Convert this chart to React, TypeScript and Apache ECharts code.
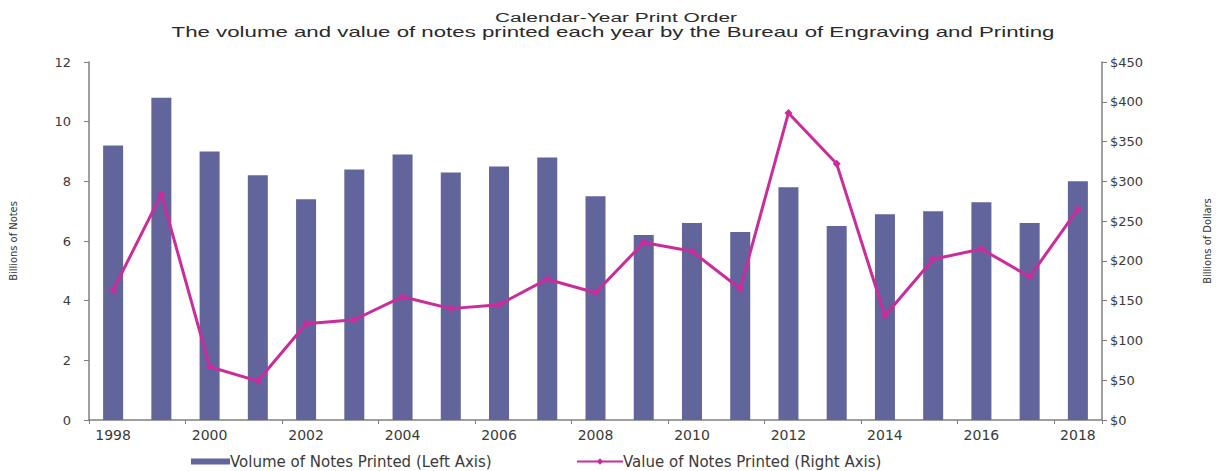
import React, { useEffect, useRef } from "react";
import * as echarts from "echarts";

const years = ["1998","1999","2000","2001","2002","2003","2004","2005","2006","2007","2008","2009","2010","2011","2012","2013","2014","2015","2016","2017","2018"];
const volumeBillions = [9.2, 10.8, 9.0, 8.2, 7.4, 8.4, 8.9, 8.3, 8.5, 8.8, 7.5, 6.2, 6.6, 6.3, 7.8, 6.5, 6.9, 7.0, 7.3, 6.6, 8.0];
const valueBillions = [163, 284, 67, 49, 121, 126, 155, 140, 145, 177, 160, 223, 212, 165, 386, 322, 131, 202, 215, 180, 265];
const titleText = "Calendar-Year Print Order";
const subtitleText = "The volume and value of notes printed each year by the Bureau of Engraving and Printing";
const seriesNames = ["Volume of Notes Printed (Left Axis)", "Value of Notes Printed (Right Axis)"];

export default function App() {
  const ref = useRef<HTMLDivElement>(null);
  useEffect(() => {
    const chart = echarts.init(ref.current!, null, { renderer: "svg" });
    const axisColor = "#7f7f7f";
    const labelStyle = { color: "#3a3a3a", fontFamily: "DejaVu Sans", fontSize: 13 };
    const narrow = "'Liberation Sans Narrow', 'DejaVu Sans Condensed', 'Liberation Sans'";
    const legendText = { color: "#3a3a3a", fontFamily: "DejaVu Sans", fontSize: 15, padding: [0, 0, 0, -5] };
    chart.setOption({
      animation: false,
      backgroundColor: "#ffffff",
      graphic: [
        {
          type: "text", x: 616, y: 17, scaleX: 1.55,
          style: { text: titleText, font: "13.5px 'Liberation Sans'", fill: "#2a2a2a", textAlign: "center", textVerticalAlign: "middle" },
        },
        {
          type: "text", x: 613, y: 32, scaleX: 1.59,
          style: { text: subtitleText, font: "14px 'Liberation Sans'", fill: "#2a2a2a", textAlign: "center", textVerticalAlign: "middle" },
        },
      ],
      grid: { left: 88, right: 116, top: 62, bottom: 51, containLabel: false },
      legend: [
        {
          left: 186, top: 449, itemWidth: 39, itemHeight: 6,
          textStyle: legendText,
          data: [{ name: seriesNames[0], icon: "rect" }],
        },
        {
          left: 571, top: 449, itemWidth: 46, itemHeight: 8,
          textStyle: legendText,
          data: [{ name: seriesNames[1] }],
        },
      ],
      xAxis: {
        type: "category",
        data: years,
        boundaryGap: true,
        axisLine: { lineStyle: { color: axisColor, width: 1.5 } },
        axisTick: { show: true, alignWithLabel: false, length: 4, lineStyle: { color: axisColor } },
        axisLabel: { ...labelStyle, fontSize: 14, interval: 1, margin: 8 },
      },
      yAxis: [
        {
          type: "value", min: 0, max: 12, interval: 2,
          name: "Billions of Notes", nameLocation: "middle", nameRotate: 90, nameGap: 70,
          nameTextStyle: { fontFamily: narrow, fontSize: 11, color: "#333" },
          axisLine: { show: true, lineStyle: { color: axisColor, width: 1.5 } },
          axisTick: { show: true, length: 5, lineStyle: { color: axisColor } },
          axisLabel: { ...labelStyle, margin: 18 },
          splitLine: { show: false },
        },
        {
          type: "value", min: 0, max: 450, interval: 50, position: "right",
          name: "Billions of Dollars", nameLocation: "middle", nameRotate: 90, nameGap: 100,
          nameTextStyle: { fontFamily: narrow, fontSize: 11, color: "#333" },
          axisLine: { show: true, lineStyle: { color: axisColor, width: 1.5 } },
          axisTick: { show: true, length: 5, lineStyle: { color: axisColor } },
          axisLabel: { ...labelStyle, margin: 8, formatter: (v: number) => "$" + v },
          splitLine: { show: false },
        },
      ],
      series: [
        {
          name: seriesNames[0], type: "bar", yAxisIndex: 0, data: volumeBillions,
          barWidth: 20, itemStyle: { color: "#62649c" },
        },
        {
          name: seriesNames[1], type: "line", yAxisIndex: 1, data: valueBillions,
          symbol: "diamond", symbolSize: 8,
          lineStyle: { color: "#c92d9c", width: 3 }, itemStyle: { color: "#c92d9c" },
        },
      ],
    });
    return () => chart.dispose();
  }, []);
  return <div ref={ref} style={{ width: 1221, height: 471, position: "absolute", left: 0, top: 0 }} />;
}
